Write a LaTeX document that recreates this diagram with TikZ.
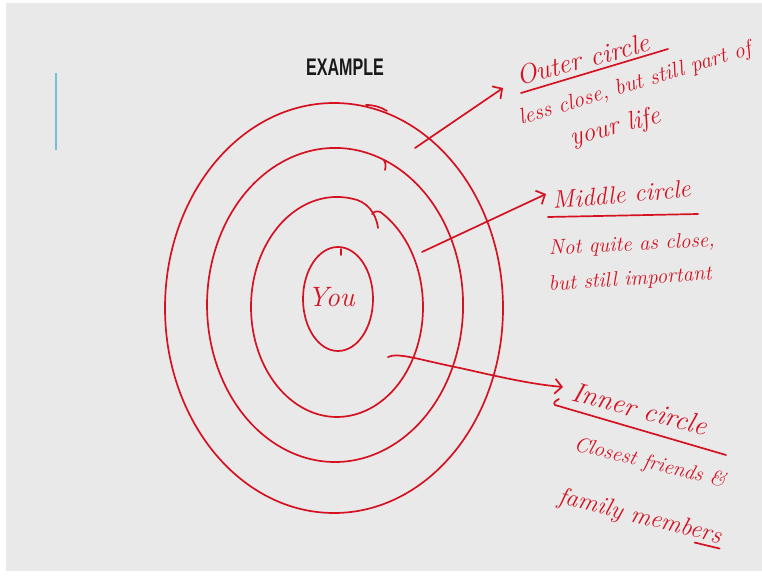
\documentclass[tikz,border=0pt]{standalone}
\usepackage{fontspec}
\setsansfont{Liberation Sans}
\usetikzlibrary{arrows.meta}
\definecolor{inkred}{RGB}{212,18,34}
\definecolor{bggray}{RGB}{233,233,233}
\definecolor{bluemark}{RGB}{120,190,212}
\begin{document}
\begin{tikzpicture}[x=1pt,y=-1pt,
  ink/.style={draw=inkred, line width=1.7pt, line cap=round, line join=round},
  inkarrow/.style={ink, -{Straight Barb[length=7pt,width=15pt,line width=1.7pt]}},
  hand/.style={text=inkred, font=\itshape\fontsize{#1}{#1}\selectfont, inner sep=0pt, anchor=base west},
  hand/.default=20,
  title/.style={font=\sffamily\bfseries\fontsize{24}{24}\selectfont, text=black!90, inner sep=0pt, xscale=0.67}]
\useasboundingbox (0,0) rectangle (762,575);
\fill[white] (0,0) rectangle (762,575);
\fill[bggray] (6,3) rectangle (762,571);
% title and blue mark
\node[title] (example) at (345,67) {EXAMPLE};
\draw[bluemark, line width=1.5pt] (56,73) -- (56,150);
% circles
\draw[ink] (334,308) ellipse[x radius=169, y radius=205];
\draw[ink] (366,105) .. controls (374,105) and (381,107) .. (387,111);
\draw[ink] (383,159.4) arc[start angle=292, end angle=652, x radius=128, y radius=157]
  .. controls (386,162) and (386,166) .. (385,170);
\draw[ink] (372,214) .. controls (375,211) and (377,211) .. (380,211.7)
  arc[start angle=300, end angle=640, x radius=86, y radius=110]
  .. controls (366,201) and (376,212) .. (378,228);
\draw[ink] (338,299) ellipse[x radius=35, y radius=52];
\draw[ink] (341,249) -- (341,255);
\node[text=inkred, font=\itshape\fontsize{28}{28}\selectfont, inner sep=0pt] (you) at (331,297) {You};
% outer circle label
\node[hand=27, rotate=15] (outer) at (519,86) {Outer circle};
\draw[ink] (521,93) -- (668,49);
\node[hand=22, rotate=17] (outerdesc) at (521,125) {less close, but still part of};
\node[hand=26, rotate=15] (outerdesc2) at (572,146) {your life};
% middle circle label
\node[hand=25, rotate=5] (middle) at (553,209) {Middle circle};
\draw[ink] (548,217) -- (698,214);
\node[hand=21, rotate=3] (middledesc) at (549,255) {Not quite as close,};
\node[hand=21, rotate=4] (middledesc2) at (549,291) {but still important};
% inner circle label
\node[hand=28, rotate=-15] (inner) at (570,400) {Inner circle};
\draw[ink] (559,399) .. controls (555,401) and (553,403) .. (555,405) -- (726,455);
\node[hand=21, rotate=-14] (innerdesc) at (573,450) {Closest friends \&};
\node[hand=25, rotate=-14] (innerdesc2) at (557,503) {family members};
\draw[ink] ([shift={(-25,-1)}]innerdesc2.base east) -- ([shift={(0,5)}]innerdesc2.base east);
% arrows
\coordinate (a1s) at (415,148);
\coordinate (a1e) at (503,88);
\draw[inkarrow] (a1s) -- (a1e);
\coordinate (a2s) at (422,252);
\coordinate (a2e) at (546,194);
\draw[inkarrow] (a2s) -- (a2e);
\coordinate (a3s) at (388,357);
\coordinate (a3e) at (563,387);
\draw[inkarrow] (a3s) .. controls (398,352) and (420,360) .. (460,368) .. controls (500,377) and (530,384) .. (a3e);
\end{tikzpicture}
\end{document}
